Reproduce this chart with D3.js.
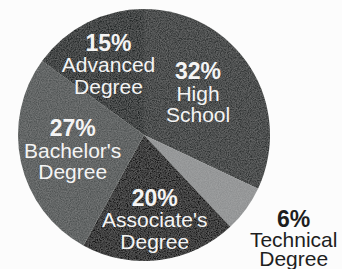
<!DOCTYPE html>
<html>
<head>
<meta charset="utf-8">
<script src="https://d3js.org/d3.v7.min.js"></script>
<style>
  body { margin: 0; background: #fcfcfc; }
  svg { display: block; }
  .lbl { font-family: "Liberation Sans", Arial, sans-serif; font-size: 21px; text-anchor: middle; }
  .lbl .pct { font-weight: bold; font-size: 23px; }
</style>
</head>
<body>
<script>
// shares of each education level, clockwise from 12 o'clock
var categories = ["High School", "Technical", "Associate's", "Bachelor's", "Advanced"];
var values = [32, 6, 20, 27, 15];
var nameLines = [["High", "School"], ["Technical", "Degree"], ["Associate's", "Degree"],
                 ["Bachelor's", "Degree"], ["Advanced", "Degree"]];
var colors = ["#313534", "#8e9091", "#161918", "#515554", "#242827"];

var width = 342, height = 269,
    cx = 144, cy = 135, r = 126;

// where each label sits: share of the radius, and a small turn off the slice middle (degrees)
var labelPos = [0.54, 1.45, 0.68, 0.58, 0.62];
var labelTurn = [-5, -1, 0, 0, 0];

var svg = d3.select("body").append("svg")
    .attr("width", width)
    .attr("height", height);

// grain, to look a bit like the printed scan
var defs = svg.append("defs");
var f = defs.append("filter").attr("id", "grain");
f.append("feTurbulence").attr("type", "fractalNoise").attr("baseFrequency", 0.9)
  .attr("numOctaves", 2).attr("seed", 3).attr("result", "noise");
f.append("feColorMatrix").attr("in", "noise").attr("type", "matrix")
  .attr("values", "0 0 0 0 1  0 0 0 0 1  0 0 0 0 1  0 0 0 0.2 -0.05").attr("result", "speck");
f.append("feComposite").attr("in", "speck").attr("in2", "SourceGraphic").attr("operator", "in").attr("result", "sp");
f.append("feMerge").call(function(m) {
  m.append("feMergeNode").attr("in", "SourceGraphic");
  m.append("feMergeNode").attr("in", "sp");
});

var g = svg.append("g").attr("transform", "translate(" + cx + "," + cy + ")");

var pie = d3.pie().sort(null).value(function(d) { return d; });
var arcs = pie(values);

var arc = d3.arc().innerRadius(0).outerRadius(r);

g.append("g").attr("filter", "url(#grain)")
  .selectAll("path")
  .data(arcs)
  .enter().append("path")
  .attr("d", arc)
  .attr("fill", function(d, i) { return colors[i]; });

var labels = g.selectAll("text.lbl")
  .data(arcs)
  .enter().append("text")
  .attr("class", "lbl")
  .attr("fill", function(d) { return d.data < 10 ? "#1e1e1e" : "#f4f4f4"; })
  .attr("transform", function(d, i) {
    var lr = r * labelPos[i];
    var a = (d.startAngle + d.endAngle) / 2 + labelTurn[i] * Math.PI / 180;
    var x = lr * Math.sin(a), y = -lr * Math.cos(a);
    return "translate(" + x + "," + (y + 7) + ")";
  });

labels.each(function(d, i) {
  var t = d3.select(this);
  var lineH = d.data < 10 ? 19.5 : 21.5;
  t.append("tspan").attr("class", "pct")
    .attr("x", 0).attr("y", -lineH)
    .text(d.data + "%");
  nameLines[i].forEach(function(s, k) {
    t.append("tspan").attr("x", 0).attr("y", k * lineH).text(s);
  });
});
</script>
</body>
</html>
